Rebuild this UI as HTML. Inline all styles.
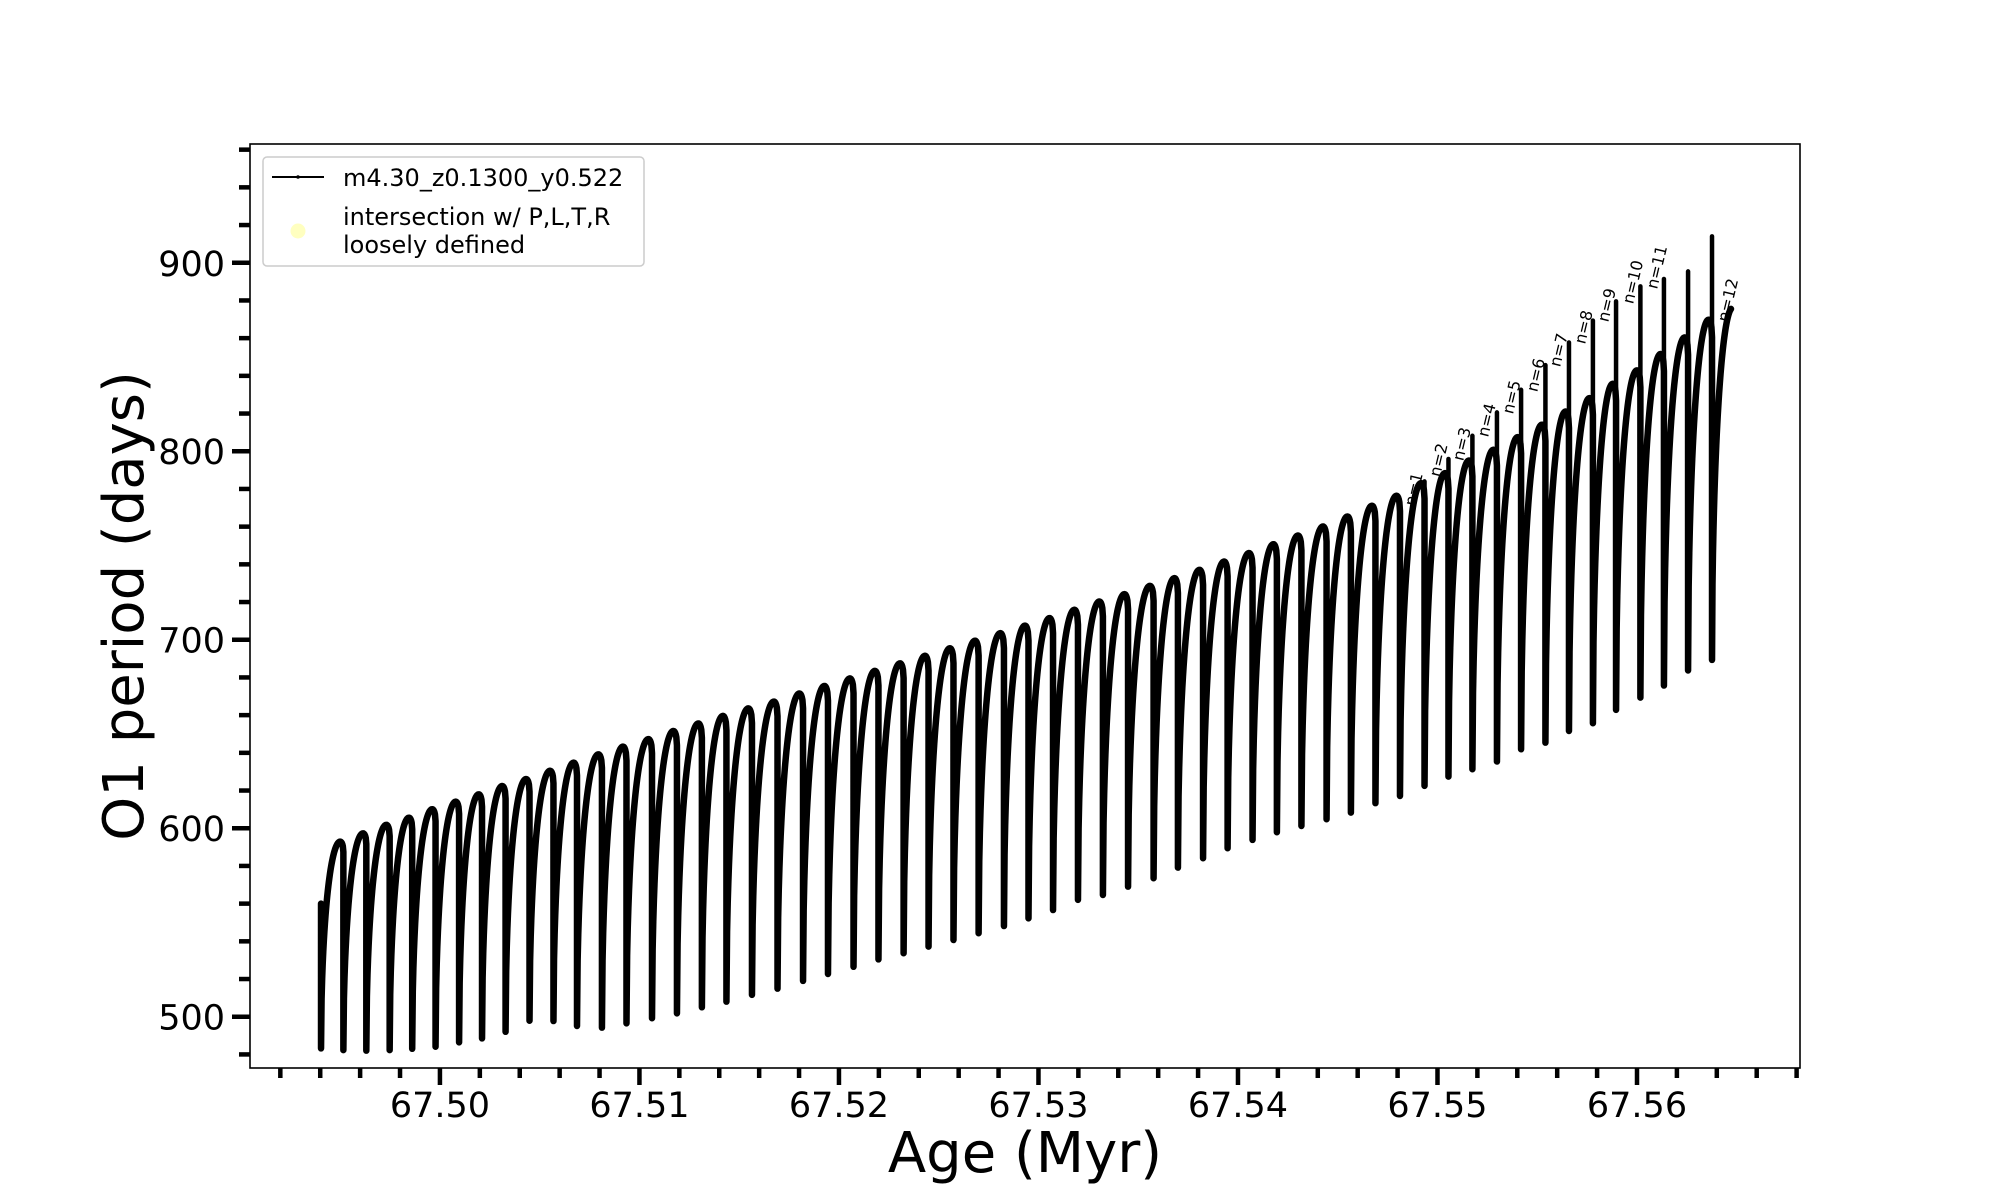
<!DOCTYPE html>
<html><head><meta charset="utf-8">
<style>
html,body{margin:0;padding:0;background:#fff;}
svg{display:block;font-family:"DejaVu Sans","Liberation Sans",sans-serif;}
</style></head>
<body>
<svg id="chart" width="2000" height="1200" viewBox="0 0 2000 1200" xmlns="http://www.w3.org/2000/svg">
  <rect x="0" y="0" width="2000" height="1200" fill="#fff"/>
  <g id="plot"></g>
  <rect x="250" y="144" width="1550" height="924" fill="none" stroke="#000" stroke-width="1.6"/>
  <g id="xticks"></g>
  <g id="yticks"></g>
  <text x="1025" y="1172" font-size="56" text-anchor="middle">Age (Myr)</text>
  <text transform="translate(143,606) rotate(-90)" font-size="56" text-anchor="middle">O1 period (days)</text>
  <g>
    <rect x="263" y="157" width="381" height="109" rx="4" fill="#fff" fill-opacity="0.8" stroke="#ccc" stroke-width="1.5"/>
    <g>
      <line x1="272" y1="177" x2="324" y2="177" stroke="#000" stroke-width="2"/>
      <circle cx="298" cy="177" r="1.8" fill="#000"/>
      <text x="343" y="186" font-size="24">m4.30_z0.1300_y0.522</text>
    </g>
    <g>
      <circle cx="298" cy="231" r="7.5" fill="#ffffb0" fill-opacity="0.8"/>
      <text x="343" y="225" font-size="24">intersection w/ P,L,T,R</text>
      <text x="343" y="253" font-size="24">loosely defined</text>
    </g>
  </g>
</svg>
<script>
const dropAges = [67.49404,67.49516,67.49631,67.49748,67.49861,67.49978,67.50096,67.50211,67.50329,67.50449,
67.50569,67.50687,67.50812,67.50935,67.51063,67.51188,67.51313,67.51436,67.51564,67.51692,
67.51820,67.51945,67.52073,67.52198,67.52324,67.52449,67.52574,67.52700,67.52827,67.52950,
67.53073,67.53198,67.53323,67.53449,67.53577,67.53699,67.53825,67.53948,67.54073,67.54195,
67.54318,67.54444,67.54566,67.54689,67.54812,67.54935,67.55055,67.55175,67.55298,67.55419,
67.55541,67.55659,67.55779,67.55895,67.56017,67.56135,67.56256,67.56376];
const minVals = [483.2,482.3,482,482.3,483,484.1,486.4,488.5,492,497.9,
497.7,495.1,494.2,496.5,499.2,501.8,505,508,511.6,514.9,
519,522.7,526.5,530.4,533.7,537.2,540.7,544.3,548.1,552.2,
556.6,562,564.6,569,573.5,579.1,584.1,589.4,593.8,597.9,
601.2,604.8,608.3,613.3,617.1,622.5,627.4,631.3,635.4,641.9,
645.4,651.6,655.7,662.8,669.3,675.7,683.7,689.3];
const peakVals = [560,592.9,597.3,601.8,605.6,610.1,614.1,618,622.4,626.1,
630.5,634.8,639.2,643.3,647.3,651.6,655.6,659.6,663.6,667.2,
671.5,675.5,679.5,683.5,687.5,691.5,695.5,699.5,703.5,707.5,
711.5,715.9,720.3,724.2,728.6,732.7,737.1,741.5,746,750.7,
755.3,760.1,765.4,771.1,776.4,783.1,788.4,795.1,800.8,807.5,
814.1,821.1,828.2,835.8,842.9,851.6,860.4,869.8];
const spikeVals = [null,null,null,null,null,null,null,null,null,null,
null,null,null,null,null,null,null,null,null,null,
null,null,null,null,null,null,null,null,null,null,
null,null,null,null,null,null,null,null,null,null,
null,null,null,null,null,784,795.9,808.2,820.6,832.6,
845.7,857.7,869.3,879.5,887.5,891.4,895.4,914];
const endAge = 67.56471;
const endVal = 875.5;
const labelTexts = ["n=1","n=2","n=3","n=4","n=5","n=6","n=7","n=8","n=9","n=10","n=11","n=12"];
const labelAges = [67.54837,67.54962,67.55078,67.55203,67.55328,67.55449,67.55564,67.55689,67.55805,67.55930,67.56050,67.56406];
const labelVals = [770.5,786,794.5,807.2,819.4,831.1,844.4,856.5,868.2,877.8,885.7,868.2];
const xMajorTicks = [67.50,67.51,67.52,67.53,67.54,67.55,67.56];
const xTickLabels = ["67.50","67.51","67.52","67.53","67.54","67.55","67.56"];
const yMajorTicks = [500,600,700,800,900];
const yTickLabels = ["500","600","700","800","900"];

const X0=250,X1=1800,Y0=144,Y1=1068;
const xMin=67.49048,xMax=67.56817,yMin=472.8,yMax=963;
const NS="http://www.w3.org/2000/svg";
function X(a){return X0+(a-xMin)/(xMax-xMin)*(X1-X0);}
function Y(v){return Y1-(v-yMin)/(yMax-yMin)*(Y1-Y0);}
function mk(tag,attrs,parent){const e=document.createElementNS(NS,tag);for(const k in attrs)e.setAttribute(k,attrs[k]);parent.appendChild(e);return e;}

const plot=document.getElementById('plot');
let d="M"+X(dropAges[0]).toFixed(2)+","+Y(peakVals[0]).toFixed(2)+" L"+X(dropAges[0]).toFixed(2)+","+Y(minVals[0]).toFixed(2);
const c=0.86;
for(let i=0;i<dropAges.length-1;i++){
  const a0=dropAges[i],a1=dropAges[i+1],lo=minVals[i],hi=peakVals[i+1];
  const A=hi-lo,dd=0.05*A;
  const N=40;
  for(let k=1;k<=N;k++){
    const t=k/N;let v;
    if(t<=c){const u=(c-t)/c;v=lo+A*Math.sqrt(Math.max(0,1-u*u));}
    else{const u=(t-c)/(1-c);v=hi-dd*(1-Math.sqrt(Math.max(0,1-u*u)));}
    d+=" L"+X(a0+t*(a1-a0)).toFixed(2)+","+Y(v).toFixed(2);
  }
  d+=" L"+X(a1).toFixed(2)+","+Y(minVals[i+1]).toFixed(2);
}
{
  const i=dropAges.length-1,a0=dropAges[i],lo=minVals[i],A=endVal-lo,N=40,cc=1.08;
  for(let k=1;k<=N;k++){const t=k/N;const u=(cc-t)/cc;const v=lo+A*Math.sqrt(Math.max(0,1-u*u))/Math.sqrt(1-((cc-1)/cc)**2);
    d+=" L"+X(a0+t*(endAge-a0)).toFixed(2)+","+Y(v).toFixed(2);}
}
const curve=mk('path',{d:d,fill:'none',stroke:'#000','stroke-width':6.5,'stroke-linejoin':'round','stroke-linecap':'round'},plot);



for(let i=0;i<dropAges.length;i++){
  if(spikeVals[i]===null)continue;
  const s=mk('line',{x1:X(dropAges[i]),x2:X(dropAges[i]),y1:Y(spikeVals[i]),y2:Y(minVals[i]),stroke:'#000','stroke-width':4.5,'stroke-linecap':'round'},plot);
  
  
}
for(let i=0;i<labelTexts.length;i++){
  const x=X(labelAges[i])+10,y=Y(labelVals[i]);
  const t=mk('text',{x:0,y:0,'font-size':16,transform:'translate('+x.toFixed(1)+','+y.toFixed(1)+') rotate(-76.5)'},plot);
  t.textContent=labelTexts[i];
  
  
}

const xg=document.getElementById('xticks');
for(let k=0;k<=38;k++){
  const a=67.492+k*0.002;if(a>xMax)break;
  const major=Math.abs(Math.round(a*100)-a*100)<1e-6;
  const tk=mk('line',{x1:X(a),x2:X(a),y1:Y1,y2:Y1+(major?17:10),stroke:'#000','stroke-width':4.5},xg);
  
  
}
for(let i=0;i<xMajorTicks.length;i++){
  const t=mk('text',{x:X(xMajorTicks[i]),y:1117,'font-size':35,'text-anchor':'middle'},xg);
  t.textContent=xTickLabels[i];
  
  
}
const yg=document.getElementById('yticks');
for(let v=480;v<=960;v+=20){
  const major=v%100===0;
  const tk=mk('line',{x1:X0-(major?18:11),x2:X0,y1:Y(v),y2:Y(v),stroke:'#000','stroke-width':4.5},yg);
  
  
}
for(let i=0;i<yMajorTicks.length;i++){
  const t=mk('text',{x:225,y:Y(yMajorTicks[i])+13,'font-size':35,'text-anchor':'end'},yg);
  t.textContent=yTickLabels[i];
  
  
}
</script>
</body></html>
